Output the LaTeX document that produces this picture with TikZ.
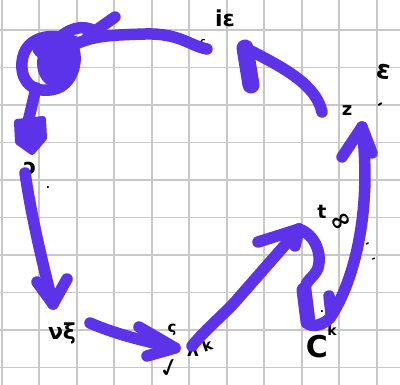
\documentclass[tikz,border=0pt]{standalone}
\usepackage{fontspec}
\newfontfamily\hand{DejaVu Sans}
\definecolor{ink}{RGB}{92,51,232}
\definecolor{paperline}{RGB}{200,200,200}
\begin{document}
\begin{tikzpicture}[x=1pt,y=-1pt,
  pen/.style={draw=ink,line width=11.5pt,line cap=round,line join=round},
  gridline/.style={draw=paperline,line width=1.8pt},
  lbl/.style={inner sep=0pt,text=black,font=\hand\bfseries\fontsize{#1}{#1}\selectfont},
  lbl/.default=20]
\useasboundingbox (0,0) rectangle (400,385);
\fill[white] (0,0) rectangle (400,385);
% squared paper
\foreach \k in {0,...,10} \draw[gridline] (1.8+37.5*\k,0) -- (1.8+37.5*\k,385);
\foreach \k in {1,...,10} \draw[gridline] (0,-7.5+37.5*\k) -- (400,-7.5+37.5*\k);

% labels
\node[lbl=22] (ie) at (225,18) {iε};
\node[lbl=9] (c) at (203,42) {c};
\node[lbl=26,rotate=-10] (ee) at (384,72) {ɛ};
\node[lbl=18] (z) at (347,111) {z};
\node[lbl=14,rotate=30] (tz) at (381,106) {-};
\node[lbl=22] (o) at (30,168) {ɔ};
\node[lbl=10] (dot) at (48,188) {.};
\node[lbl=22] (nx) at (62,333) {νξ};
\node[lbl=15] (s) at (172,330) {ς};
\node[lbl=26,rotate=15] (chk) at (170,369) {✓};
\node[lbl=18] (lam) at (193,352) {ʌ};
\node[lbl=15,rotate=20] (kk) at (207,345) {k};
\node[lbl=19] (t) at (322,212) {t};
\node[lbl=26,rotate=30] (inf) at (342,222) {∞};
\node[lbl=10] (m1) at (370,190) {'};
\node[lbl=10,rotate=30] (m2) at (368,245) {-};
\node[lbl=10,rotate=20] (m3) at (374,260) {-};
\node[lbl=30] (C) at (317,347) {C};
\node[lbl=14] (k2) at (332,330) {k};
\node[lbl=10] (cd) at (322,312) {.};

% stroke end points
\coordinate (knot) at (72,46);
\coordinate (topend) at (207,49);
\coordinate (a1) at (25,173);
\coordinate (a1tip) at (53,304);
\coordinate (a2) at (90,323);
\coordinate (a2tip) at (175,348);
\coordinate (a3) at (192,346);
\coordinate (a3tip) at (299,229);
\coordinate (a4tip) at (362,127);
\coordinate (a5) at (322,112);
\coordinate (a5tip) at (245,48);

% knotted start
\draw[pen] (75,42) .. controls (50,30) and (24,38) .. (22,62)
  .. controls (20,84) and (36,94) .. (55,89) .. controls (72,85) and (80,60) .. (72,45);
\fill[ink] (57,63) ellipse [x radius=20pt, y radius=25pt];
\fill[ink] (44,47) circle [radius=12pt];
\draw[pen] (55,42) .. controls (68,28) and (82,24) .. (95,31);
\draw[pen] (115,17) -- (88,36);
\draw[pen] (knot) .. controls (92,35) and (115,35) .. (145,34)
  .. controls (180,33) and (190,46) .. (topend);
\draw[pen] (36,88) -- (28,122);
\filldraw[ink,line width=6pt,line join=round] (17,122) -- (43,119) -- (44,138) -- (32,152) -- (18,142) -- cycle;

% left descent
\draw[pen] (a1) .. controls (32,220) and (43,265) .. (a1tip);
\draw[pen] (37,282) -- (a1tip) -- (67,279);

% bottom
\draw[pen] (a2) .. controls (120,336) and (150,342) .. (a2tip);
\draw[pen] (139,327) -- (a2tip) -- (147,356);

% rising diagonal
\draw[pen] (a3) .. controls (205,330) and (222,316) .. (235,302) -- (a3tip);
\draw[pen] (258,242) -- (a3tip) -- (295,246);

% zig-zag and long climb
\draw[pen] (a3tip) .. controls (316,235) and (322,255) .. (318,268)
  .. controls (314,278) and (305,280) .. (305,290) -- (307,322)
  .. controls (310,328) and (322,326) .. (330,318)
  .. controls (355,280) and (372,210) .. (a4tip);
\draw[pen,line width=15pt] (304,290) -- (308,322);
\draw[pen] (329,296) -- (331,313);
\draw[pen] (342,157) -- (a4tip) -- (372,153);

% return to the top
\draw[pen] (a5) .. controls (316,85) and (285,68) .. (a5tip);
\draw[pen,line width=17pt] (a5tip) -- (251,85);
\end{tikzpicture}
\end{document}
